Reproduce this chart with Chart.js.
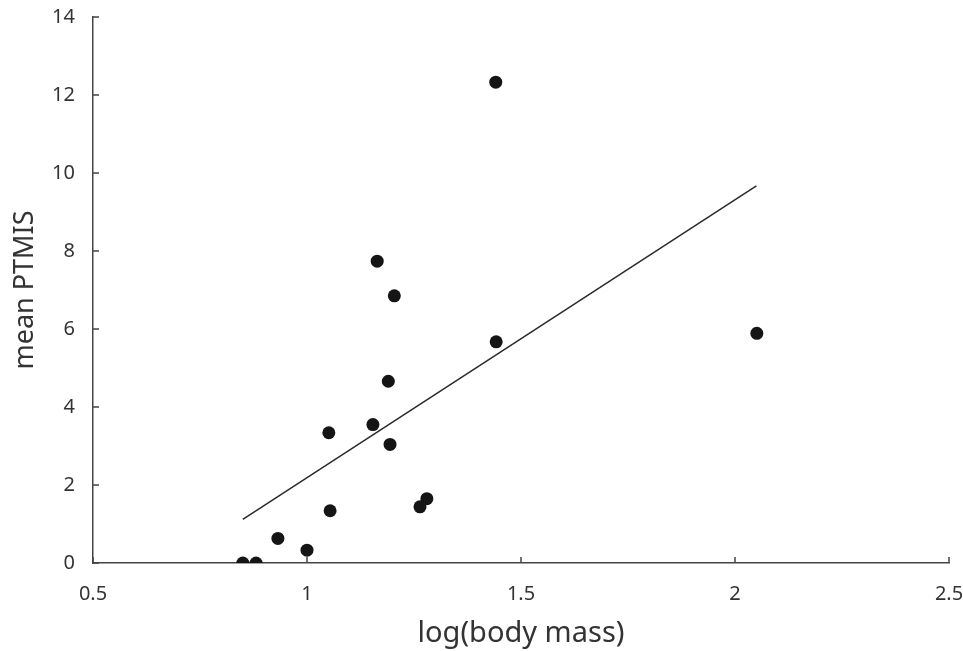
<!DOCTYPE html>
<html>
<head>
<meta charset="utf-8">
<script src="https://cdn.jsdelivr.net/npm/chart.js@4/dist/chart.umd.min.js"></script>
<style>
	html, body { margin: 0; padding: 0; background: #fff; }
	#wrap { width: 963px; height: 651px; }
</style>
</head>
<body>
<div id="wrap"><canvas id="chart_ptmis"></canvas></div>
<script>
// log(body mass) vs mean PTMIS
var logMass   = [0.850, 0.881, 0.932, 1.000, 1.051, 1.054, 1.154, 1.164, 1.190, 1.194, 1.204, 1.264, 1.280, 1.441, 1.442, 2.051];
var meanPTMIS = [0.00, 0.00, 0.63, 0.33, 3.34, 1.34, 3.55, 7.74, 4.66, 3.04, 6.85, 1.44, 1.65, 12.33, 5.67, 5.89];

// regression line end points
var fitX = [0.850, 2.050];
var fitY = [1.12, 9.67];

var xTicks = [0.5, 1, 1.5, 2, 2.5];
var yTicks = [0, 2, 4, 6, 8, 10, 12, 14];

var axisColor = '#444';
var textColor = '#333';
var fontFamily = '"Noto Sans", "DejaVu Sans", sans-serif';

function toPoints( xs, ys ) {
	var pts = [];
	for( var i = 0; i < xs.length; i++ ) {
		pts.push({ x: xs[i], y: ys[i] });
	}
	return pts;
}

// small tick marks pointing into the plot
var innerTicks = {
	id: 'innerTicks',
	afterDraw: function( chart ) {
		var ctx = chart.ctx;
		var xs = chart.scales.x;
		var ys = chart.scales.y;
		var len = 6;
		ctx.save();
		ctx.strokeStyle = axisColor;
		ctx.lineWidth = 1.5;
		ctx.beginPath();
		xs.ticks.forEach( function( t ) {
			var px = xs.getPixelForValue( t.value );
			ctx.moveTo( px, ys.bottom );
			ctx.lineTo( px, ys.bottom - len );
		});
		ys.ticks.forEach( function( t ) {
			var py = ys.getPixelForValue( t.value );
			ctx.moveTo( xs.left, py );
			ctx.lineTo( xs.left + len, py );
		});
		ctx.stroke();
		ctx.restore();
	}
};

var ctx = document.getElementById('chart_ptmis').getContext('2d');
var chart_ptmis = new Chart(ctx, {
	type: 'scatter',
	data: {
		datasets: [{
			data: toPoints( logMass, meanPTMIS ),
			backgroundColor: '#151515',
			borderWidth: 0,
			pointRadius: 6.5,
			pointHoverRadius: 6.5
		}, {
			type: 'line',
			data: toPoints( fitX, fitY ),
			borderColor: '#2a2a2a',
			borderWidth: 1.5,
			pointRadius: 0,
			fill: false
		}]
	},
	options: {
		responsive: true,
		maintainAspectRatio: false,
		animation: false,
		events: [],
		layout: {
			padding: { left: 9, right: 14, top: 17, bottom: 0 }
		},
		plugins: {
			legend: { display: false },
			tooltip: { enabled: false }
		},
		scales: {
			x: {
				type: 'linear',
				min: 0.5,
				max: 2.5,
				afterBuildTicks: function( scale ) {
					scale.ticks = xTicks.map( function( v ) { return { value: v }; } );
				},
				afterFit: function( scale ) {
					scale.height = 88;
					scale.paddingLeft = 0;
					scale.paddingRight = 0;
				},
				grid: { display: false, drawTicks: false },
				border: { display: true, color: axisColor, width: 1.5 },
				ticks: {
					padding: 19,
					color: textColor,
					font: { family: fontFamily, size: 20 },
					maxRotation: 0,
					callback: function( v ) { return String( v ); }
				},
				title: {
					display: true,
					text: 'log(body mass)',
					color: textColor,
					padding: 0,
					font: { family: fontFamily, size: 29 }
				}
			},
			y: {
				type: 'linear',
				min: 0,
				max: 14,
				afterBuildTicks: function( scale ) {
					scale.ticks = yTicks.map( function( v ) { return { value: v }; } );
				},
				afterFit: function( scale ) {
					scale.width = 84;
					scale.paddingTop = 0;
					scale.paddingBottom = 0;
				},
				grid: { display: false, drawTicks: false },
				border: { display: true, color: axisColor, width: 1.5 },
				ticks: {
					padding: 18,
					color: textColor,
					font: { family: fontFamily, size: 20 }
				},
				title: {
					display: true,
					text: 'mean PTMIS',
					color: textColor,
					padding: 0,
					font: { family: fontFamily, size: 27 }
				}
			}
		}
	},
	plugins: [ innerTicks ]
});
</script>
</body>
</html>
